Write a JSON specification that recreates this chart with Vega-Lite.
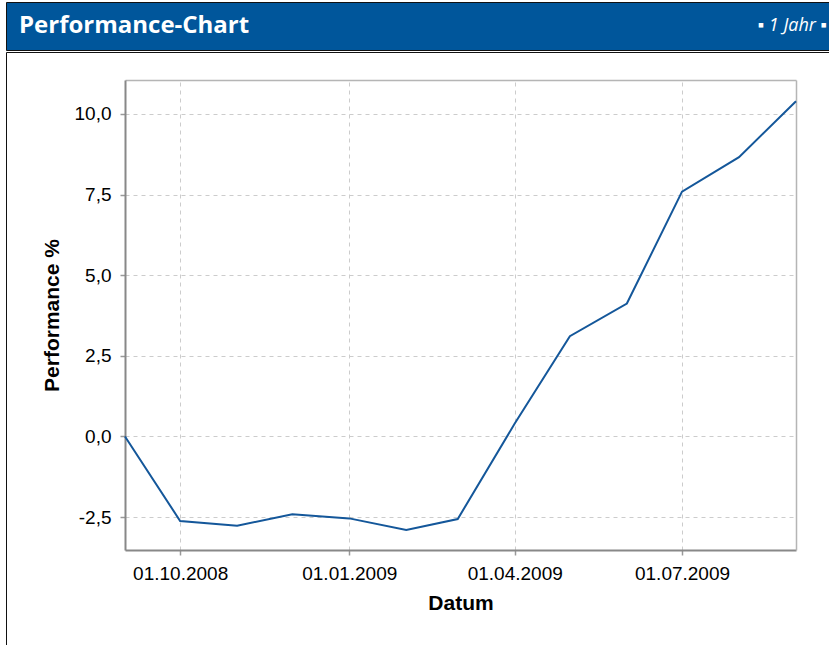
{
  "$schema": "https://vega.github.io/schema/vega-lite/v6.json",
  "background": "white",
  "padding": {"left": 5, "top": 1, "right": 0, "bottom": 0},
  "spacing": 0,
  "config": {
    "view": {"stroke": null},
    "axis": {"labelFont": "Liberation Sans", "titleFont": "Liberation Sans", "labelColor": "#000", "titleColor": "#000"}
  },
  "vconcat": [
    {
      "width": 824,
      "height": 48,
      "view": {"fill": "#00569b", "stroke": "#111", "strokeWidth": 1},
      "layer": [
        {
          "data": {"values": [{"side": "left", "label": "Performance-Chart"}]},
          "mark": {"type": "text", "align": "left", "baseline": "middle", "color": "white", "font": "Open Sans", "fontWeight": "bold", "fontSize": 24},
          "encoding": {
            "text": {"field": "label", "type": "nominal"},
            "x": {"field": "side", "type": "nominal", "scale": {"type": "point", "domain": ["left", "right"], "range": [13, 821], "padding": 0}, "axis": null}
          }
        },
        {
          "data": {"values": [{"side": "right", "label": "▪ 1 Jahr ▪"}]},
          "mark": {"type": "text", "align": "right", "baseline": "middle", "color": "white", "font": "Open Sans", "fontStyle": "italic", "fontSize": 18},
          "encoding": {
            "text": {"field": "label", "type": "nominal"},
            "x": {"field": "side", "type": "nominal", "axis": null}
          }
        }
      ]
    },
    {
      "width": 824,
      "height": 593,
      "view": {"fill": "white", "stroke": "#111", "strokeWidth": 1},
      "data": {
        "values": [
          {"date": "2008-09-01", "perf": 0.0},
          {"date": "2008-10-01", "perf": -2.62},
          {"date": "2008-11-01", "perf": -2.77},
          {"date": "2008-12-01", "perf": -2.41},
          {"date": "2009-01-01", "perf": -2.54},
          {"date": "2009-02-01", "perf": -2.9},
          {"date": "2009-03-01", "perf": -2.56},
          {"date": "2009-04-01", "perf": 0.4},
          {"date": "2009-05-01", "perf": 3.11},
          {"date": "2009-06-01", "perf": 4.12},
          {"date": "2009-07-01", "perf": 7.59},
          {"date": "2009-08-01", "perf": 8.66},
          {"date": "2009-09-01", "perf": 10.39}
        ]
      },
      "layer": [
        {
          "mark": {"type": "line", "color": "#14579a", "strokeWidth": 2},
          "encoding": {
            "x": {
              "field": "date",
              "type": "temporal",
              "scale": {
                "type": "utc",
                "domain": [{"year": 2008, "month": 9, "date": 1, "utc": true}, {"year": 2009, "month": 9, "date": 1, "utc": true}],
                "range": [119, 790],
                "nice": false
              },
              "axis": {
                "orient": "bottom",
                "offset": -95,
                "values": [
                  {"year": 2008, "month": 10, "date": 1, "utc": true},
                  {"year": 2009, "month": 1, "date": 1, "utc": true},
                  {"year": 2009, "month": 4, "date": 1, "utc": true},
                  {"year": 2009, "month": 7, "date": 1, "utc": true}
                ],
                "format": "%d.%m.%Y",
                "labelFontSize": 19,
                "labelPadding": 9,
                "labelFlush": false,
                "labelOverlap": false,
                "tickSize": 5,
                "tickColor": "#999",
                "tickWidth": 1.5,
                "domainColor": "#888",
                "domainWidth": 2,
                "grid": false,
                "title": "Datum",
                "titleFontSize": 21,
                "titleFontWeight": "bold",
                "titlePadding": 9
              }
            },
            "y": {
              "field": "perf",
              "type": "quantitative",
              "scale": {"domain": [-3.52, 11.05], "range": [498, 28], "nice": false, "zero": false},
              "axis": {
                "orient": "left",
                "offset": -119,
                "values": [-2.5, 0, 2.5, 5, 7.5, 10],
                "labelExpr": "replace(replace(format(datum.value, '.1f'), '.', ','), '−', '-')",
                "labelFontSize": 19,
                "labelPadding": 9,
                "tickSize": 5,
                "tickColor": "#999",
                "tickWidth": 1.5,
                "domainColor": "#888",
                "domainWidth": 2,
                "grid": true,
                "gridColor": "#cccccc",
                "gridDash": [4, 4],
                "gridWidth": 1,
                "title": "Performance %",
                "titleFontSize": 21,
                "titleFontWeight": "bold",
                "titlePadding": 12
              }
            }
          }
        },
        {
          "mark": {"type": "point", "opacity": 0},
          "encoding": {
            "x": {
              "field": "date",
              "type": "temporal",
              "axis": {
                "orient": "top",
                "offset": -28,
                "values": [
                  {"year": 2008, "month": 10, "date": 1, "utc": true},
                  {"year": 2009, "month": 1, "date": 1, "utc": true},
                  {"year": 2009, "month": 4, "date": 1, "utc": true},
                  {"year": 2009, "month": 7, "date": 1, "utc": true}
                ],
                "grid": true,
                "gridColor": "#cccccc",
                "gridDash": [4, 4],
                "gridWidth": 1,
                "ticks": false,
                "labels": false,
                "title": null,
                "domainColor": "#b5b5b5",
                "domainWidth": 1.5
              }
            },
            "y": {
              "field": "perf",
              "type": "quantitative",
              "axis": {"orient": "right", "offset": -34, "grid": false, "ticks": false, "labels": false, "title": null, "domainColor": "#b5b5b5", "domainWidth": 1.5}
            }
          }
        }
      ]
    }
  ]
}
